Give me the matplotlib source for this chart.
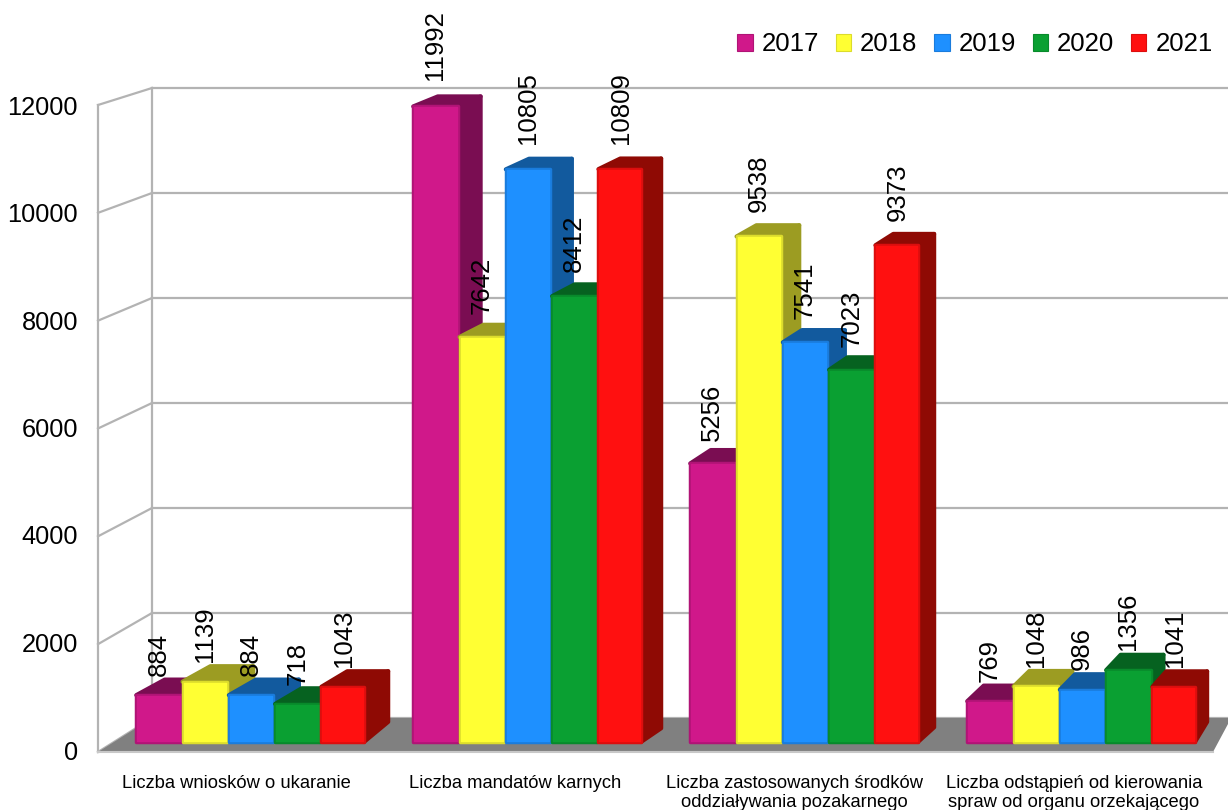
import numpy as np
import matplotlib
matplotlib.use('Agg')
import matplotlib.pyplot as plt
from matplotlib.patches import Patch

plt.rcParams['font.family'] = ['Liberation Sans', 'DejaVu Sans']

years = ['2017', '2018', '2019', '2020', '2021']
categories = ['Liczba wniosków o ukaranie',
              'Liczba mandatów karnych',
              'Liczba zastosowanych środków\noddziaływania pozakarnego',
              'Liczba odstąpień od kierowania\nspraw od organu orzekającego']
v2017 = [884, 11992, 5256, 769]
v2018 = [1139, 7642, 9538, 1048]
v2019 = [884, 10805, 7541, 986]
v2020 = [718, 8412, 7023, 1356]
v2021 = [1043, 10809, 9373, 1041]
series = [v2017, v2018, v2019, v2020, v2021]
yticks = [0, 2000, 4000, 6000, 8000, 10000, 12000]

front_cols = ['#d0188a', '#ffff33', '#1e90ff', '#0aa032', '#ff1010']
edge_cols = ['#b01476', '#dcdc2c', '#1a7cdc', '#088a2b', '#dc0e0e']
side_cols = ['#7a0d52', '#9c9c22', '#125a9e', '#066220', '#8f0a04']
line_col = '#b3b3b3'

W, H = 1228, 810
# pixels per value on the plane of the bar fronts, and pixels per category
SCALE = 636.0/12000
BASE = 742.0
STEP = 277.0
FIRST = 251.0

fig = plt.figure(figsize=(W/100.0, H/100.0), dpi=100)
ax = fig.add_axes([0, 0, 1, 1])
ax.set_xlim(-FIRST/STEP, (W-FIRST)/STEP)
ax.set_ylim((BASE-H)/SCALE, BASE/SCALE)
ax.axis('off')

def dx(p):
    return p/STEP

def yp(p):
    # pixel row to value on the axis
    return (BASE-p)/SCALE

# walls and floor
back_y = lambda v: 718.0 - v*630.0/12000
front_y = lambda v: 752.0 - v*647.0/12000
x_f = (98-FIRST)/STEP
x_b = (152-FIRST)/STEP
x_r = (W-FIRST)/STEP
for t in yticks:
    ax.plot([x_f, x_b], [yp(front_y(t)), yp(back_y(t))], color=line_col, lw=1.6, zorder=1)
    ax.plot([x_b, x_r], [yp(back_y(t))]*2, color=line_col, lw=1.6, zorder=1)
    ax.text(x_f-dx(20), yp(752 - t*645.0/12000 + 0.5), str(t), fontsize=18.3, ha='right', va='center')
ax.plot([x_f, x_f], [yp(752), yp(105)], color=line_col, lw=1.6, zorder=1)
ax.plot([x_b, x_b], [yp(718), yp(88)], color=line_col, lw=1.6, zorder=1)
ax.fill([x_f, x_b, x_r, x_r, (1213-FIRST)/STEP],
        [yp(752), yp(718), yp(718), yp(724), yp(752)],
        color='#808080', lw=0, zorder=2)
ax.plot([x_f, (1213-FIRST)/STEP], [yp(752), yp(752)], color='#c8c8c8', lw=1.5, zorder=2)

# bars, drawn left to right so each front covers the side of the one before
BAR = 46.3
z = 3
for g in range(len(categories)):
    for s in range(len(years)):
        val = series[s][g]
        w = 42.5 if s == 4 else 44.5
        left_px = FIRST + STEP*g + (s-2)*BAR - BAR/2 + 1
        right_px = left_px + w
        xc = (left_px - 1 + BAR/2 - FIRST)/STEP
        xl = (left_px - FIRST)/STEP
        xr = (right_px - FIRST)/STEP
        # perspective: depth shrinks towards the right and with height
        d_r = 29.5 - 0.0145*right_px
        d_l = 30.5 - 0.0145*left_px
        top_d = 16 - 6*val/12000.0
        ytop = val
        ax.fill([xr, xr+dx(d_r), xr+dx(d_r), xr],
                [0, top_d/SCALE*1.3, ytop+top_d/SCALE, ytop],
                color=side_cols[s], ec=side_cols[s], lw=3, joinstyle='round', zorder=z)
        ax.fill([xl, xl+dx(d_l), xr+dx(d_r), xr],
                [ytop, ytop+top_d/SCALE, ytop+top_d/SCALE, ytop],
                color=side_cols[s], ec=side_cols[s], lw=3, joinstyle='round', zorder=z)
        ax.bar((xl+xr)/2, val, width=xr-xl, color=edge_cols[s], ec=edge_cols[s],
               lw=2.5, joinstyle='round', zorder=z+1)
        ax.bar((xl+xr)/2, val-2/SCALE, bottom=1/SCALE, width=xr-xl-dx(2), color=front_cols[s],
               ec=front_cols[s], lw=1, joinstyle='round', zorder=z+1)
        gap = 19 + 7*val/12000.0
        ax.text(xc, val+gap/SCALE, str(val), rotation=90, fontsize=18.5,
                ha='center', va='bottom', zorder=50)
        z += 2

for g, c in enumerate(categories):
    ax.text((236-FIRST)/STEP + g*279.3/STEP, yp(774.5), c, fontsize=13.2, ha='center', va='top',
            linespacing=1.18, zorder=50)

handles = [Patch(facecolor=front_cols[i], edgecolor=edge_cols[i], lw=0.8, label=years[i])
           for i in range(len(years))]
fig.legend(handles=handles, ncol=5, loc='upper right', bbox_to_anchor=(0.9875, 0.96),
           frameon=False, fontsize=18.5, handlelength=0.6, handleheight=0.6,
           handletextpad=0.35, columnspacing=0.65, borderpad=0, borderaxespad=0)

fig.savefig('out.png', dpi=100)
